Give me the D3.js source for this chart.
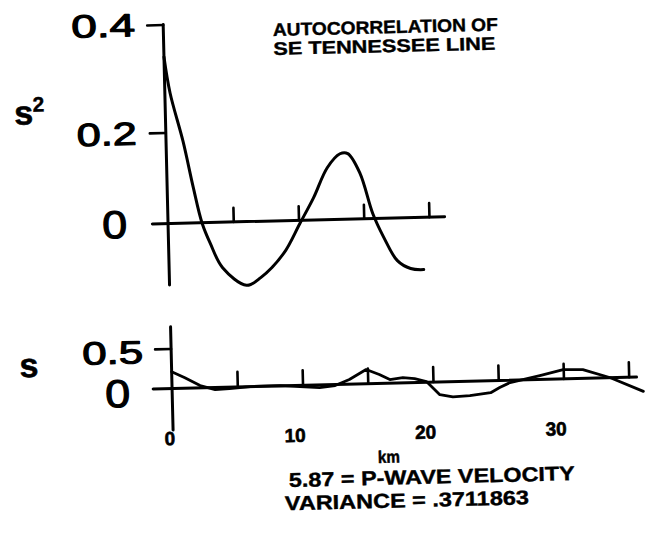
<!DOCTYPE html>
<html>
<head>
<meta charset="utf-8">
<script src="https://cdn.jsdelivr.net/npm/d3@7"></script>
<style>
  body { margin: 0; background: #fff; }
  svg { display: block; }
</style>
</head>
<body>
<svg width="651" height="539"></svg>
<script>
// upper panel: autocorrelation (s^2) against lag in km
var kmTop  = [0, 0.4, 1.3, 2.0, 2.6, 3.2, 4.1, 5.9, 7.0, 8.8, 10.1, 11.2, 12.3, 13.3, 13.9, 14.8, 15.7, 16.5, 17.5, 18.5, 19.5];
var acfTop = [0.34, 0.273, 0.18, 0.078, 0, -0.046, -0.1, -0.14, -0.124, -0.072, -0.007, 0.049, 0.114, 0.144, 0.144, 0.1, 0.011, -0.042, -0.094, -0.112, -0.115];

// lower panel: s along the line
var kmBot = [0, 1.0, 2.15, 3.3, 4.4, 6.0, 8.3, 9.8, 11.3, 12.5, 13.6, 14.9, 15.9, 16.7, 17.7, 18.6, 19.5, 20.5, 21.5, 22.8, 24.4, 25.1, 25.9, 28.2, 30.0, 31.5, 33.6, 36.1];
var sBot  = [0.21, 0.13, 0.028, -0.028, -0.02, 0, 0.003, -0.016, -0.035, -0.014, 0.057, 0.177, 0.111, 0.044, 0.065, 0.049, 0.008, -0.16, -0.19, -0.18, -0.15, -0.089, -0.03, 0.049, 0.117, 0.11, 0, -0.18];

var topTicks = [5, 10, 15, 20];
var botTicks = [5, 10, 15, 20, 25, 30, 35];
var botLabels = [0, 10, 20, 30];
var title = ["AUTOCORRELATION OF", "SE TENNESSEE LINE"];
var notes = ["5.87 = P-WAVE VELOCITY", "VARIANCE = .3711863"];

var svg = d3.select("svg");

// the scan is a little skewed, so everything sits in one rotated group
var g = svg.append("g").attr("transform", "rotate(-1.4,168,222)");

var x = d3.scaleLinear().domain([0, 35]).range([168, 624.75]);
// the upper y axis is not evenly spaced on the paper
var yTop = d3.scaleLinear().domain([0, 0.2, 0.4]).range([223.5, 132.5, 24.5]);
var yBot = d3.scaleLinear().domain([0, 0.5]).range([388.5, 348.5]);

var ink = function(sel, w) {
  return sel.attr("stroke", "#000").attr("stroke-width", w).attr("fill", "none").attr("stroke-linecap", "round");
};

// ---- upper panel axes
ink(g.append("line"), 3)
  .attr("x1", x(-1.2)).attr("x2", x(21.2))
  .attr("y1", yTop(0)).attr("y2", yTop(0));
ink(g.append("line"), 3)
  .attr("x1", x(0)).attr("x2", x(0))
  .attr("y1", yTop(0.4)).attr("y2", yTop(-0.135));

var ax1 = g.append("g")
  .attr("transform", "translate(0," + yTop(0) + ")")
  .call(d3.axisTop(x).tickValues(topTicks).tickSize(14).tickFormat(""));
var ay1 = g.append("g")
  .attr("transform", "translate(" + x(0) + ",0)")
  .call(d3.axisLeft(yTop).tickValues([0.2, 0.4]).tickSize(16).tickFormat(""));

// ---- lower panel axes
ink(g.append("line"), 3)
  .attr("x1", x(-1.45)).attr("x2", x(35.6))
  .attr("y1", yBot(0)).attr("y2", yBot(0));
ink(g.append("line"), 3)
  .attr("x1", x(0)).attr("x2", x(0))
  .attr("y1", yBot(0.77)).attr("y2", yBot(-0.52));

var ax2 = g.append("g")
  .attr("transform", "translate(0," + yBot(0) + ")")
  .call(d3.axisTop(x).tickValues(botTicks).tickSize(15).tickFormat(""));
var ay2 = g.append("g")
  .attr("transform", "translate(" + x(0) + ",0)")
  .call(d3.axisLeft(yBot).tickValues([0.5]).tickSize(16).tickFormat(""));

[ax1, ay1, ax2, ay2].forEach(function(a) {
  a.select(".domain").remove();
  a.selectAll(".tick line").attr("stroke", "#000").attr("stroke-width", 2.6).attr("stroke-linecap", "round");
});

// ---- curves
var lineTop = d3.line()
  .x(function(d, i) { return x(kmTop[i]); })
  .y(function(d) { return yTop(d); })
  .curve(d3.curveCatmullRom.alpha(0.5));
ink(g.append("path"), 3).attr("d", lineTop(acfTop));

var lineBot = d3.line()
  .x(function(d, i) { return x(kmBot[i]); })
  .y(function(d) { return yBot(d); });
ink(g.append("path"), 2.8).attr("stroke-linejoin", "round").attr("d", lineBot(sBot));

// ---- text
var sans = "'Liberation Sans', Arial, sans-serif";
var narrow = "'Liberation Sans Narrow', 'Liberation Sans', sans-serif";

function label(tx, px, py, size, opts) {
  opts = opts || {};
  var t = g.append("text")
    .attr("x", px).attr("y", py)
    .attr("font-family", opts.family || sans)
    .attr("font-size", size)
    .attr("font-weight", opts.weight || "normal")
    .attr("text-anchor", opts.anchor || "start")
    .attr("fill", "#000")
    .text(tx);
  if (opts.len) t.attr("textLength", opts.len).attr("lengthAdjust", "spacingAndGlyphs");
  // scanned ink is heavier than the font
  if (opts.thick) t.attr("stroke", "#000").attr("stroke-width", opts.thick).attr("stroke-linejoin", "round");
  return t;
}

// y tick labels
label("0.4", 140, 35.5, 32, {anchor: "end", len: 64, thick: 1.1});
label("0.2", 139, 144, 32, {anchor: "end", len: 60, thick: 1.1});
label("0", 127, 237, 39, {anchor: "end", len: 25, thick: 1.1});
label("0.5", 140, 362.5, 32, {anchor: "end", len: 61, thick: 1.1});
label("0", 126, 406, 39, {anchor: "end", len: 25, thick: 1.1});

// axis names
label("s", 17, 121, 34, {weight: "bold", thick: 0.6});
label("2", 35.5, 108.5, 21, {weight: "bold", thick: 0.4});
label("s", 16, 373.5, 34, {weight: "bold", thick: 0.6});

// km labels under the lower panel
g.selectAll(".kmlab").data(botLabels).enter().append("text")
  .attr("class", "kmlab")
  .attr("x", function(d) { return x(d) + 2; })
  .attr("y", 445)
  .attr("text-anchor", "end")
  .attr("font-family", sans)
  .attr("font-weight", "bold")
  .attr("font-size", 19)
  .attr("stroke", "#000")
  .attr("stroke-width", 0.6)
  .text(function(d) { return d; });
label("km", 372, 468, 17, {weight: "bold", len: 22, thick: 0.5});

// title and notes
label(title[0], 277.5, 38.6, 18, {family: narrow, weight: "bold", len: 225, thick: 0.4});
label(title[1], 277.5, 57.6, 18, {family: narrow, weight: "bold", len: 222, thick: 0.4});
label(notes[0], 282.5, 490, 20, {family: narrow, weight: "bold", len: 286, thick: 0.4});
label(notes[1], 278, 513, 20, {family: narrow, weight: "bold", len: 244, thick: 0.4});
</script>
</body>
</html>
